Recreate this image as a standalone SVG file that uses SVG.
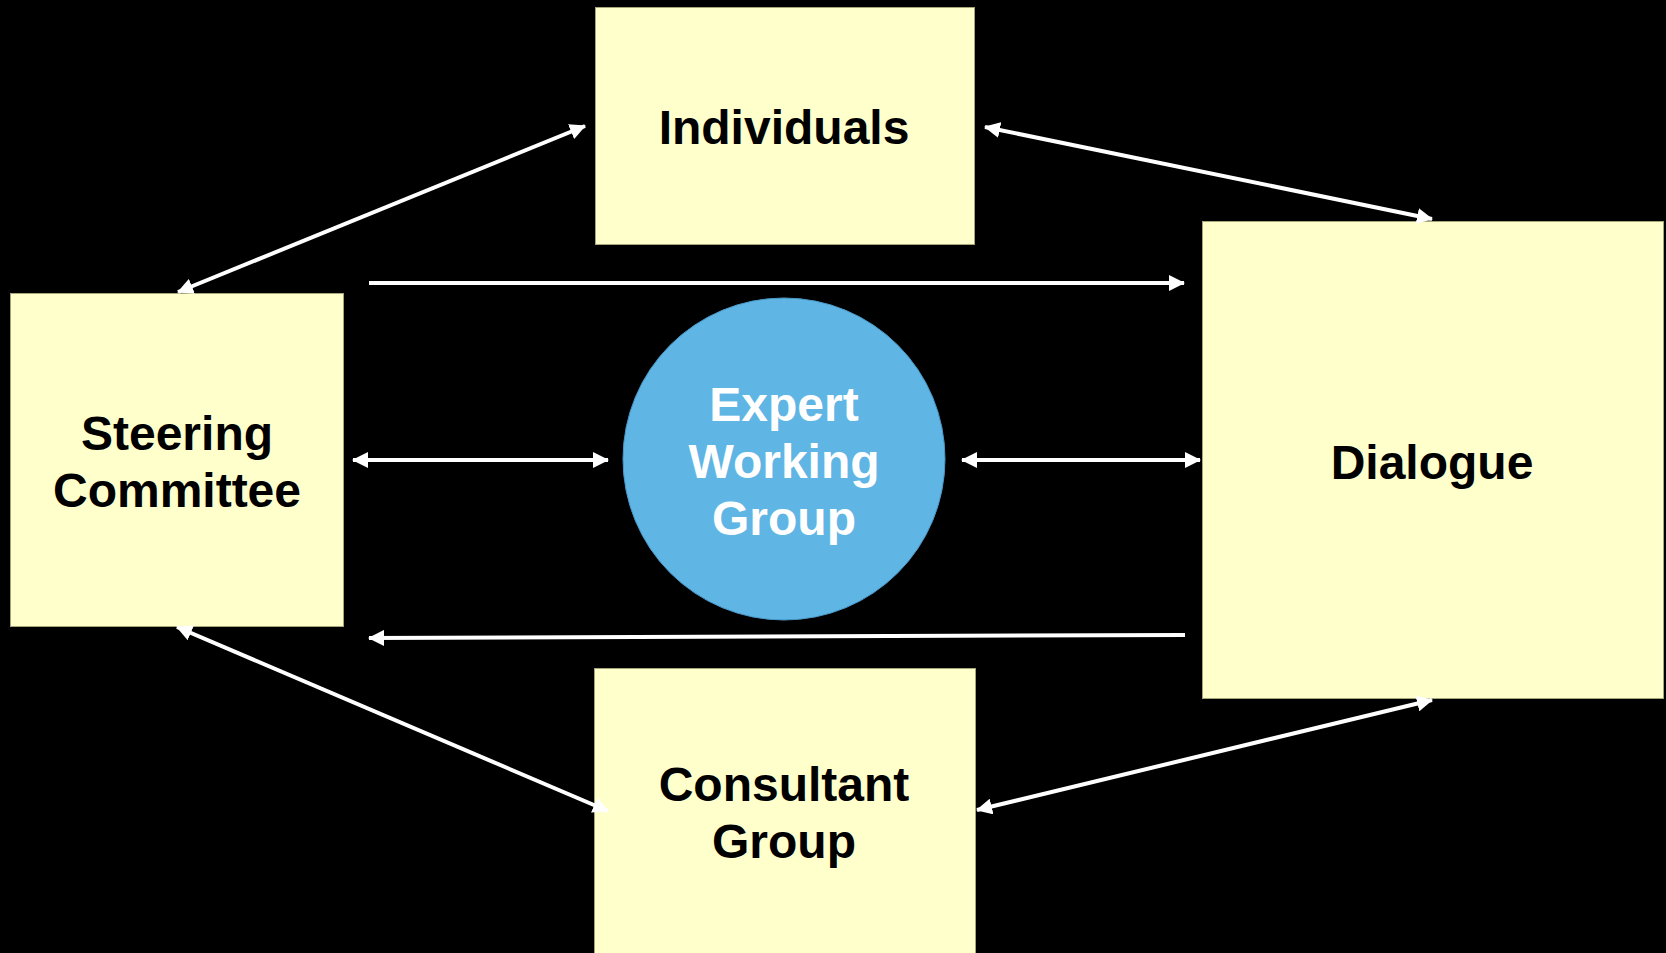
<svg xmlns="http://www.w3.org/2000/svg" width="1666" height="953" viewBox="0 0 1666 953">
<defs>
<style>
.box{fill:#FFFFCC;stroke:#A6A67A;stroke-width:1}
.circ{fill:#5FB5E4;stroke:#4A98C8;stroke-width:1}
.lbl{font-family:"Liberation Sans",Arial,sans-serif;font-weight:bold;font-size:48px;text-anchor:middle;fill:#000}
.lblw{fill:#FFFFFF}
.con{stroke:#FFFFFF;stroke-width:4;fill:none}
</style>
<marker id="ah" viewBox="0 0 16 16" refX="15" refY="8" markerWidth="16" markerHeight="16" markerUnits="userSpaceOnUse" orient="auto-start-reverse">
<path d="M0,0 L16,8 L0,16 z" fill="#FFFFFF"/>
</marker>
</defs>
<rect x="0" y="0" width="1666" height="953" fill="#000000"/>
<g id="individuals">
<rect class="box" x="595.5" y="7.5" width="379" height="237"/>
<text class="lbl" x="784" y="144">Individuals</text>
</g>
<g id="steering-committee">
<rect class="box" x="10.5" y="293.5" width="333" height="333"/>
<text class="lbl" x="177" y="450">Steering</text>
<text class="lbl" x="177" y="507">Committee</text>
</g>
<g id="dialogue">
<rect class="box" x="1202.5" y="221.5" width="461" height="477"/>
<text class="lbl" x="1432" y="479">Dialogue</text>
</g>
<g id="consultant-group">
<rect class="box" x="594.5" y="668.5" width="381" height="290"/>
<text class="lbl" x="784" y="801">Consultant</text>
<text class="lbl" x="784" y="858">Group</text>
</g>
<g id="expert-working-group">
<circle class="circ" cx="784" cy="459" r="161"/>
<text class="lbl lblw" x="784" y="421">Expert</text>
<text class="lbl lblw" x="784" y="478">Working</text>
<text class="lbl lblw" x="784" y="535">Group</text>
</g>
<g id="connectors">
<line class="con" x1="178" y1="292" x2="585" y2="126" marker-start="url(#ah)" marker-end="url(#ah)"/>
<line class="con" x1="985" y1="127" x2="1432" y2="219" marker-start="url(#ah)" marker-end="url(#ah)"/>
<line class="con" x1="369" y1="283" x2="1184" y2="283" marker-end="url(#ah)"/>
<line class="con" x1="353" y1="460" x2="608" y2="460" marker-start="url(#ah)" marker-end="url(#ah)"/>
<line class="con" x1="962" y1="460" x2="1200" y2="460" marker-start="url(#ah)" marker-end="url(#ah)"/>
<line class="con" x1="1185" y1="635" x2="369" y2="638" marker-end="url(#ah)"/>
<line class="con" x1="177" y1="627" x2="608" y2="811" marker-start="url(#ah)" marker-end="url(#ah)"/>
<line class="con" x1="977" y1="810" x2="1432" y2="700" marker-start="url(#ah)" marker-end="url(#ah)"/>
</g>
</svg>
